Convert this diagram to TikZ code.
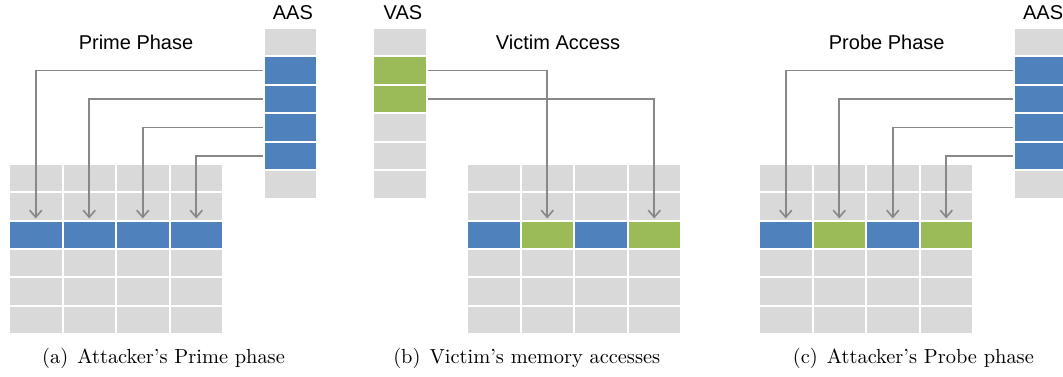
\documentclass[tikz,border=0pt]{standalone}
\usepackage{fontspec}
\setsansfont{Liberation Sans}
\usetikzlibrary{arrows.meta,positioning}

\definecolor{cellgray}{HTML}{D9D9D9}
\definecolor{cellblue}{HTML}{4F81BD}
\definecolor{cellgreen}{HTML}{9BBB59}
\definecolor{linkgray}{HTML}{888888}

\tikzset{
  cell/.style={rectangle, draw=white, line width=1pt, fill=cellgray,
    minimum width=26.75pt, minimum height=14.17pt, inner sep=0pt},
  slot/.style={cell, minimum width=26.5pt, minimum height=14.27pt},
  link/.style={draw=linkgray, line width=0.8pt,
    -{Straight Barb[length=3.5pt,width=6pt]}, shorten >=0.6pt},
  spacename/.style={font=\sffamily\fontsize{10}{12}\selectfont, xshift=1.3pt},
  phase/.style={font=\sffamily\fontsize{10}{12}\selectfont},
  subcap/.style={font=\fontsize{10.2}{12}\selectfont}
}

\begin{document}
\begin{tikzpicture}[x=0.5pt, y=-0.5pt]
  \useasboundingbox (0,0) rectangle (1063,376);

  % (a) attacker primes the set
  \foreach \r in {0,1,3,4,5}
    \foreach \c in {0,...,3}
      \node[cell] (pa-\r-\c) at (35.75+53.5*\c, 178.17+28.33*\r) {};
  \foreach \c/\col in {0/cellblue,1/cellblue,2/cellblue,3/cellblue}
    \node[cell, fill=\col] (pa-2-\c) at (35.75+53.5*\c, 234.83) {};
  \foreach \r/\col in {0/cellgray,1/cellblue,2/cellblue,3/cellblue,4/cellblue,5/cellgray}
    \node[slot, fill=\col] (aa-\r) at (290.3, 41.97+28.55*\r) {};
  \node[spacename, above=0pt of aa-0] (aa-name) {AAS};
  \node[phase] (pa-title) at (136,42) {Prime Phase};
  \foreach \r/\c in {1/0,2/1,3/2,4/3}
    \draw[link] (aa-\r.west) -| (pa-2-\c.north);
  \node[subcap] (pa-cap) at (163.5,358) {(a)\hskip0.45em Attacker's Prime phase};

  % (b) victim accesses
  \foreach \r in {0,1,3,4,5}
    \foreach \c in {0,...,3}
      \node[cell] (vb-\r-\c) at (493.75+53.5*\c, 178.17+28.33*\r) {};
  \foreach \c/\col in {0/cellblue,1/cellgreen,2/cellblue,3/cellgreen}
    \node[cell, fill=\col] (vb-2-\c) at (493.75+53.5*\c, 234.83) {};
  \foreach \r/\col in {0/cellgray,1/cellgreen,2/cellgreen,3/cellgray,4/cellgray,5/cellgray}
    \node[slot, fill=\col, minimum width=27pt] (vs-\r) at (400.3, 41.97+28.55*\r) {};
  \node[spacename, above=0pt of vs-0] (vs-name) {VAS};
  \node[phase] (vb-title) at (558,42) {Victim Access};
  \draw[link] (vs-1.east) -| (vb-2-1.north);
  \draw[link] (vs-2.east) -| (vb-2-3.north);
  \node[subcap] (vb-cap) at (526.7,358) {(b)\hskip0.45em Victim's memory accesses};

  % (c) attacker probes the set
  \foreach \r in {0,1,3,4,5}
    \foreach \c in {0,...,3}
      \node[cell] (pc-\r-\c) at (785.75+53.5*\c, 178.17+28.33*\r) {};
  \foreach \c/\col in {0/cellblue,1/cellgreen,2/cellblue,3/cellgreen}
    \node[cell, fill=\col] (pc-2-\c) at (785.75+53.5*\c, 234.83) {};
  \foreach \r/\col in {0/cellgray,1/cellblue,2/cellblue,3/cellblue,4/cellblue,5/cellgray}
    \node[slot, fill=\col] (ac-\r) at (1040.5, 41.97+28.55*\r) {};
  \node[spacename, above=0pt of ac-0] (ac-name) {AAS};
  \node[phase] (pc-title) at (886.7,42) {Probe Phase};
  \foreach \r/\c in {1/0,2/1,3/2,4/3}
    \draw[link] (ac-\r.west) -| (pc-2-\c.north);
  \node[subcap] (pc-cap) at (913.3,358) {(c)\hskip0.45em Attacker's Probe phase};
\end{tikzpicture}
\end{document}
